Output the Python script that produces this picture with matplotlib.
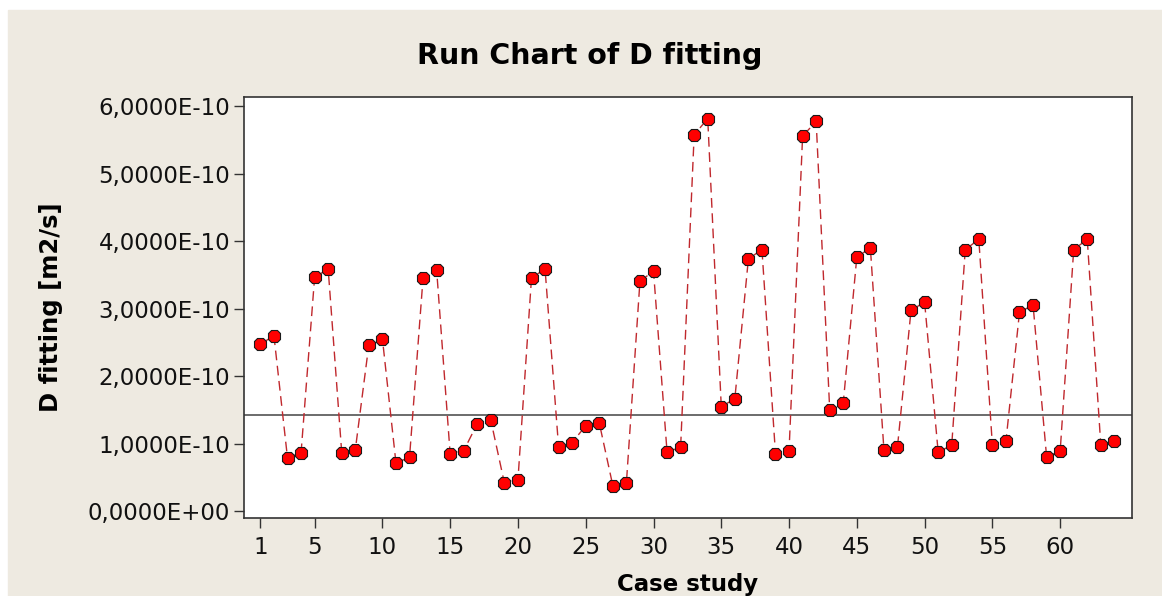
import numpy as np
import matplotlib
matplotlib.use('Agg')
import matplotlib.pyplot as plt
from matplotlib.patches import Rectangle
from matplotlib.ticker import FuncFormatter

# valori (in unita' di 1E-10 m2/s)
case_study = np.arange(1, 65)
d_fitting = np.array([
    2.48, 2.60, 0.79, 0.87, 3.47, 3.59, 0.87, 0.91,
    2.47, 2.56, 0.72, 0.80, 3.46, 3.58, 0.85, 0.90,
    1.30, 1.35, 0.42, 0.47, 3.46, 3.59, 0.95, 1.02,
    1.27, 1.31, 0.38, 0.42, 3.41, 3.56, 0.88, 0.95,
    5.58, 5.82, 1.55, 1.67, 3.74, 3.88, 0.85, 0.90,
    5.56, 5.78, 1.50, 1.61, 3.77, 3.90, 0.91, 0.96,
    2.98, 3.10, 0.88, 0.98, 3.88, 4.03, 0.98, 1.04,
    2.95, 3.06, 0.81, 0.89, 3.88, 4.03, 0.98, 1.04,
]) * 1e-10
x_ticks = [1, 5, 10, 15, 20, 25, 30, 35, 40, 45, 50, 55, 60]
y_ticks = np.arange(0, 7) * 1e-10

W, H = 1162, 596
fig = plt.figure(figsize=(W / 100, H / 100), dpi=100)
fig.patch.set_facecolor('white')
# sfondo beige stile Minitab
fig.patches.append(Rectangle((8 / W, 0), 1 - 8 / W, 1 - 10 / H,
                             transform=fig.transFigure, color='#EEEAE1', zorder=-1))

left, right, top, bottom = 244, 1132, 97, 518
ax = fig.add_axes([left / W, 1 - bottom / H, (right - left) / W, (bottom - top) / H])
ax.set_zorder(2)
ax.set_facecolor('white')

ax.plot(case_study, d_fitting, color='#C0282D', lw=1, ls=(0, (7, 4)), zorder=2)
ax.plot(case_study, d_fitting, ls='none', marker='8', ms=9.5, mfc='#FF0000',
        mec='#1a1a1a', mew=0.8, zorder=3)

# linea della mediana
ax.axhline(np.median(d_fitting), color='#444444', lw=1.1, zorder=1)

ax.set_xlim(-0.21, 65.3)
ax.set_ylim(-0.098e-10, 6.14e-10)
ax.set_xticks(x_ticks)
ax.set_yticks(y_ticks)
ax.yaxis.set_major_formatter(FuncFormatter(lambda v, p: ('%.4E' % v).replace('.', ',')))

for s in ax.spines.values():
    s.set_color('#333333')
    s.set_linewidth(1.2)
ax.tick_params(direction='out', length=7, width=1, color='#333333',
               labelsize=16.5, labelcolor='#111111')
ax.tick_params(axis='x', pad=6)
ax.tick_params(axis='y', pad=3)

ax.set_xlabel('Case study', fontsize=16.5, fontweight='bold', labelpad=10)
ax.set_ylabel('D fitting [m2/s]', fontsize=17.5, fontweight='bold', labelpad=18)
fig.text(590 / W, 1 - 56 / H, 'Run Chart of D fitting', fontsize=20.5,
         fontweight='bold', ha='center', va='center', zorder=3)

fig.savefig('out.png', dpi=100, facecolor=fig.get_facecolor())
